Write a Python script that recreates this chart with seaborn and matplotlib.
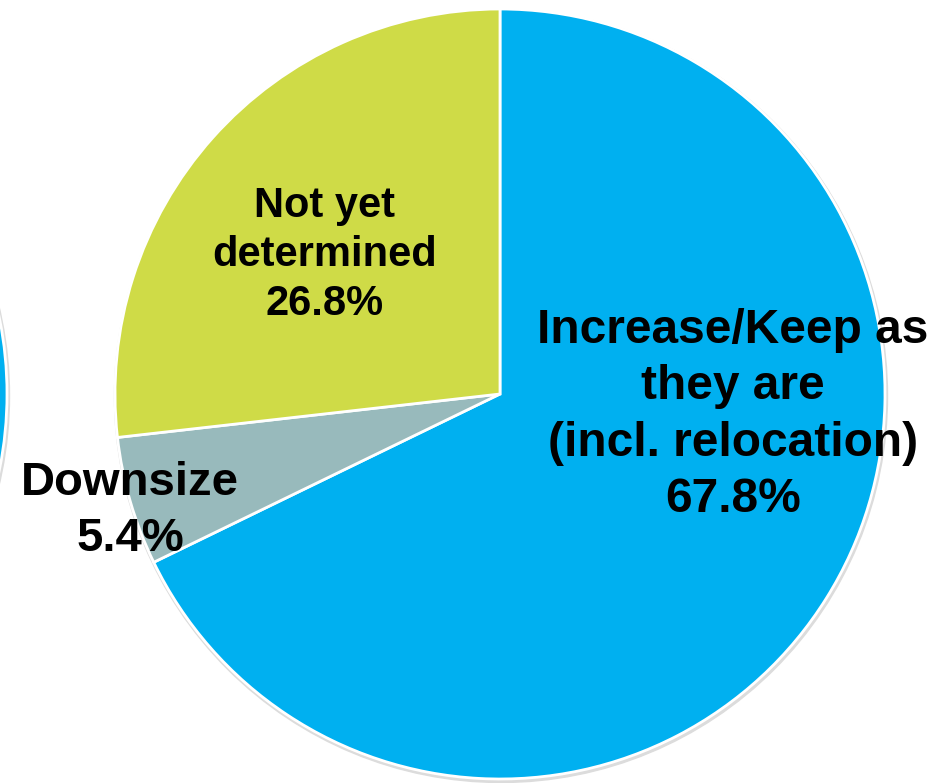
import matplotlib
matplotlib.use("Agg")
import matplotlib.pyplot as plt
import seaborn as sns

sns.set_style("white")
plt.rcParams['font.family'] = ['Liberation Sans', 'DejaVu Sans']

# data
categories = ['Increase/Keep as\nthey are\n(incl. relocation)', 'Downsize', 'Not yet\ndetermined']
shares = [67.8, 5.4, 26.8]
colors = ['#00B0F0', '#98BABC', '#CFDB47']

fig = plt.figure(figsize=(9.43, 7.83), dpi=100)
ax = fig.add_axes([0, 0, 1, 1])

cx, cy, r = 500, 389, 385

# faint shadow behind both pies
for c in [(cx, cy), (-378, cy)]:
    ax.add_patch(plt.Circle((c[0] + 1, c[1] - 2), r + 1.5, color='#dcdcdc', zorder=0))

# neighbouring pie cut off at the left edge
ax.pie([1], colors=[colors[0]], radius=r, center=(-378, cy), frame=True,
       wedgeprops=dict(edgecolor='white', linewidth=2))

wedges, _ = ax.pie(shares, colors=colors, radius=r, center=(cx, cy), startangle=90,
                   counterclock=False, frame=True,
                   wedgeprops=dict(edgecolor='white', linewidth=2))
ax.set_xlim(0, 943)
ax.set_ylim(0, 783)
ax.set_aspect('equal')
ax.axis('off')

labels = [f"{c}\n{s}%" for c, s in zip(categories, shares)]
ax.text(733, 783 - 415, labels[0], ha='center', va='center', fontsize=34.5,
        fontweight='bold', linespacing=1.32, color='black')
ax.text(130, 783 - 511, labels[1], ha='center', va='center', fontsize=34,
        fontweight='bold', linespacing=1.35, color='black')
ax.text(325, 783 - 255, labels[2], ha='center', va='center', fontsize=30,
        fontweight='bold', linespacing=1.3, color='black')

fig.savefig('out.png', dpi=100)
